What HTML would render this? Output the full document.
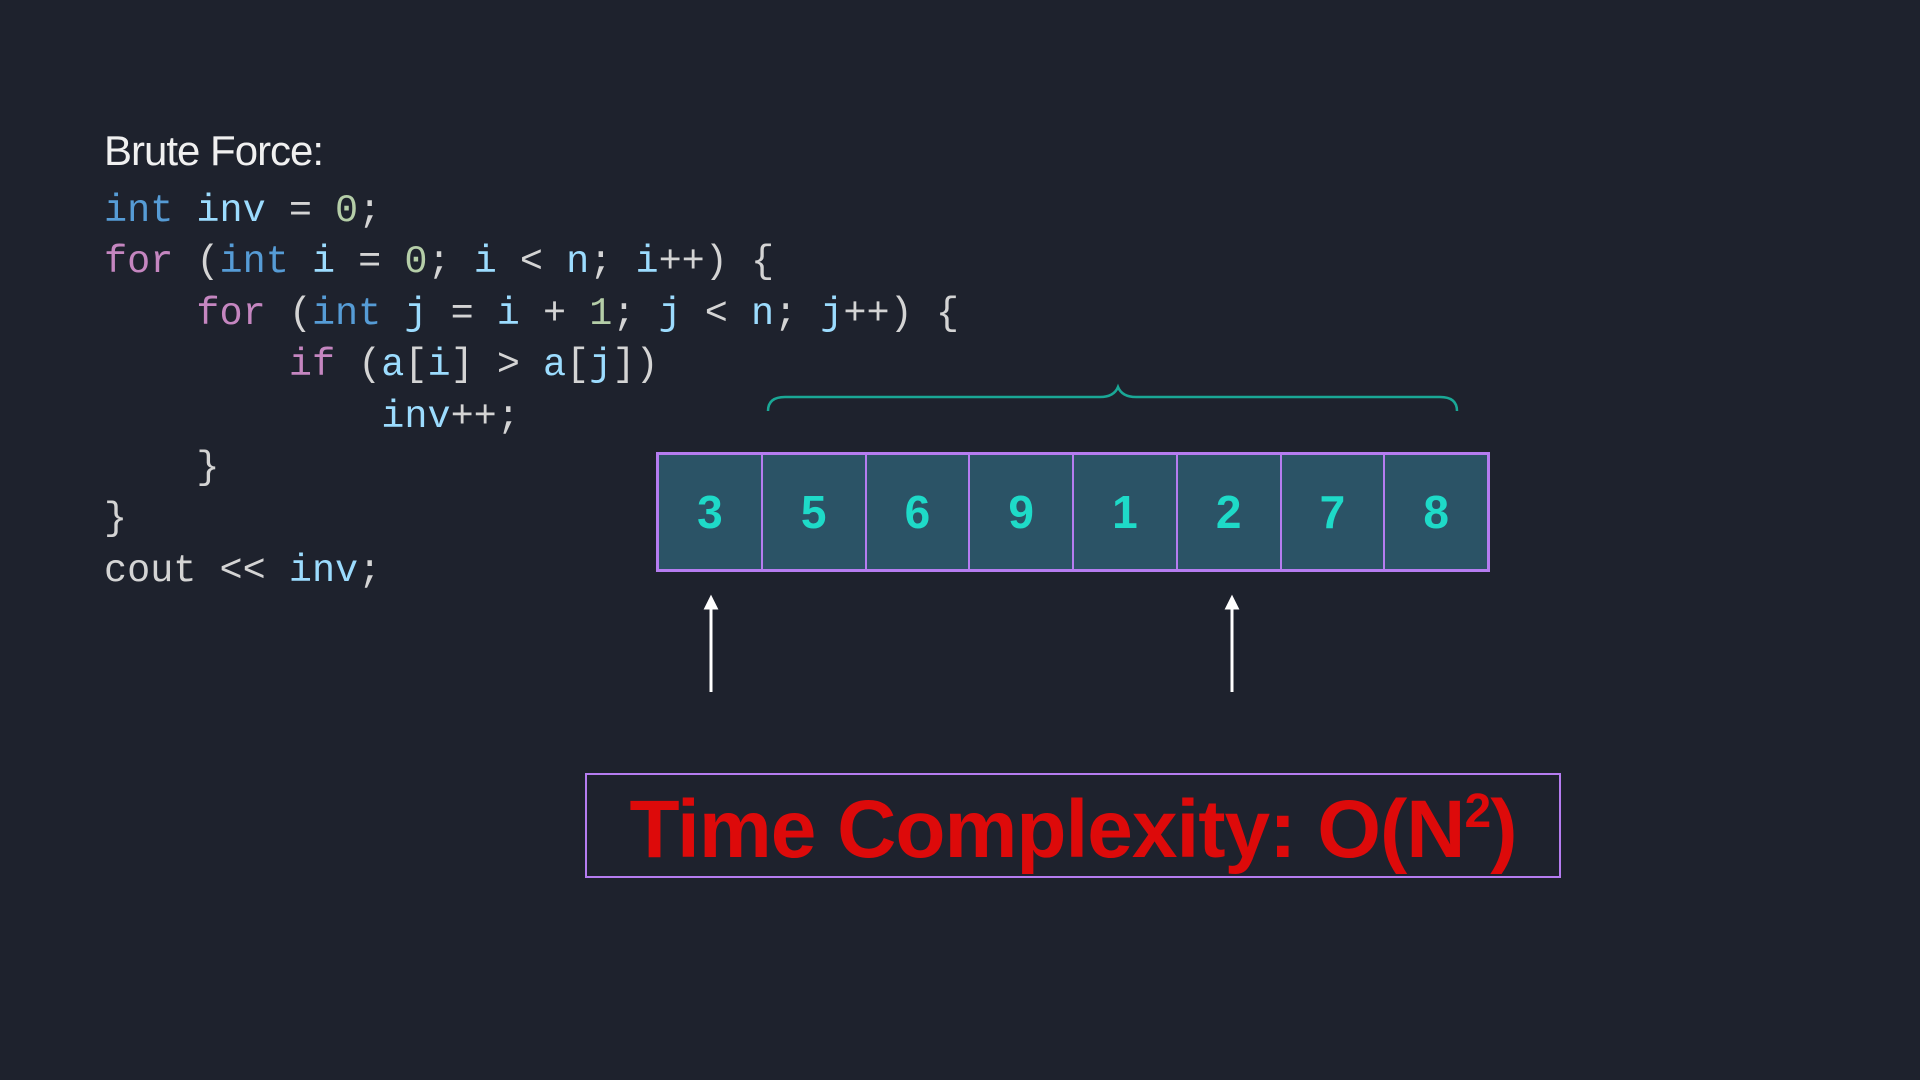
<!DOCTYPE html>
<html><head><meta charset="utf-8"><style>
html,body{margin:0;padding:0}
body{width:1920px;height:1080px;background:#1e222d;position:relative;overflow:hidden;font-family:"Liberation Sans",sans-serif}
.t{position:absolute;left:104px;top:127px;color:#f0f0f0;font-size:42px;letter-spacing:-1px}
pre{position:absolute;left:104px;top:186px;margin:0;font-family:"Liberation Mono",monospace;font-size:38.5px;line-height:51.4px;color:#d4d4d4}
.k{color:#569cd6}.c{color:#c586c0}.n{color:#b5cea8}.v{color:#9cdcfe}
.arr{position:absolute;left:656px;top:452px;width:834px;height:120px;display:flex;border:3px solid #b57cf0;box-sizing:border-box}
.arr div{flex:1;background:#2b5366;border-right:2px solid #b57cf0;color:#1edac8;font-weight:bold;font-size:46px;display:flex;align-items:center;justify-content:center}
.arr div:last-child{border-right:none}
.box{position:absolute;left:585px;top:773px;width:976px;height:105px;border:2px solid #b57cf0;box-sizing:border-box}
.tx{position:absolute;left:0;right:0;top:10px;height:90px;color:#dd0a0a;font-weight:bold;font-size:82px;text-align:center;line-height:90px;letter-spacing:-1px;white-space:nowrap}
.sup{font-size:48px;position:relative;top:-30px}
</style></head><body>
<div class="t">Brute Force:</div>
<pre><span class="k">int</span> <span class="v">inv</span> = <span class="n">0</span>;
<span class="c">for</span> (<span class="k">int</span> <span class="v">i</span> = <span class="n">0</span>; <span class="v">i</span> &lt; <span class="v">n</span>; <span class="v">i</span>++) {
    <span class="c">for</span> (<span class="k">int</span> <span class="v">j</span> = <span class="v">i</span> + <span class="n">1</span>; <span class="v">j</span> &lt; <span class="v">n</span>; <span class="v">j</span>++) {
        <span class="c">if</span> (<span class="v">a</span>[<span class="v">i</span>] &gt; <span class="v">a</span>[<span class="v">j</span>])
            <span class="v">inv</span>++;
    }
}
cout &lt;&lt; <span class="v">inv</span>;</pre>
<svg width="1920" height="1080" style="position:absolute;left:0;top:0">
<path d="M768 411 Q768 397 785 397 L1100 397 Q1114 397 1118 387 Q1122 397 1136 397 L1440 397 Q1457 397 1457 411" fill="none" stroke="#1aa896" stroke-width="2.5"/>
<g stroke="#fff" stroke-width="3" fill="#fff">
<line x1="711" y1="692" x2="711" y2="606"/><polygon points="706,608 711,598 716,608"/>
<line x1="1232" y1="692" x2="1232" y2="606"/><polygon points="1227,608 1232,598 1237,608"/>
</g></svg>
<div class="arr"><div>3</div><div>5</div><div>6</div><div>9</div><div>1</div><div>2</div><div>7</div><div>8</div></div>
<div class="box"><div class="tx">Time Complexity: O(N<span class="sup">2</span>)</div></div>
</body></html>
